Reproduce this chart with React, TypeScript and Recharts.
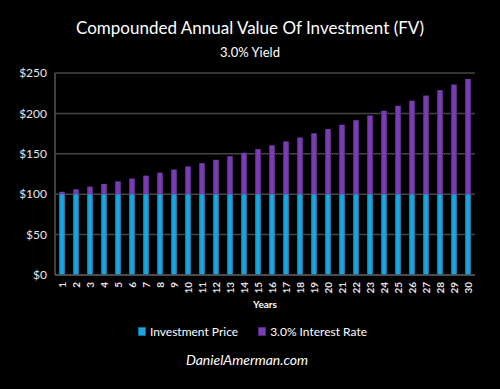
import React from "react";
import { BarChart, Bar, XAxis, YAxis, CartesianGrid } from "recharts";

const years = [1,2,3,4,5,6,7,8,9,10,11,12,13,14,15,16,17,18,19,20,21,22,23,24,25,26,27,28,29,30];
const investmentPrice = [100,100,100,100,100,100,100,100,100,100,100,100,100,100,100,100,100,100,100,100,100,100,100,100,100,100,100,100,100,100];
const interest = [3,6.1,9.3,12.6,15.9,19.4,23,26.7,30.5,34.4,38.4,42.6,46.9,51.3,55.8,60.5,65.3,70.2,75.4,80.6,86,91.6,97.4,103.3,109.4,115.7,122.1,128.8,135.7,142.7];
const yTicks = [0, 50, 100, 150, 200, 250];
const seriesNames = ["Investment Price", "3.0% Interest Rate"];

const data = years.map((y, i) => ({ year: String(y), price: investmentPrice[i], interest: interest[i] }));

const FONT = "Lato, 'Open Sans', sans-serif";

const Swatch = ({ color, edge }: { color: string; edge: string }) => (
  <span style={{ display: "inline-block", width: 6, height: 7, background: color, border: `1px solid ${edge}`, marginRight: 4, verticalAlign: "middle", position: "relative", top: -1 }} />
);

export default function App() {
  return (
    <div style={{ position: "fixed", left: 0, top: 0, width: 500, height: 389, background: "#000", fontFamily: FONT, overflow: "hidden" }}>
      <div style={{ position: "absolute", top: 17, width: 500, textAlign: "center", color: "#fff", fontSize: 17 }}>
        Compounded Annual Value Of Investment (FV)
      </div>
      <div style={{ position: "absolute", top: 44, width: 500, textAlign: "center", color: "#fff", fontSize: 13 }}>
        3.0% Yield
      </div>
      <BarChart width={500} height={389} data={data} margin={{ top: 73, right: 25, bottom: 90, left: 0 }} barSize={6}>
        <defs>
          <linearGradient id="blueG" x1="0" y1="0" x2="1" y2="0">
            <stop offset="0" stopColor="#0d6a99" />
            <stop offset="0.3" stopColor="#1aa6de" />
            <stop offset="0.7" stopColor="#1aa6de" />
            <stop offset="1" stopColor="#0d6a99" />
          </linearGradient>
          <linearGradient id="purpG" x1="0" y1="0" x2="1" y2="0">
            <stop offset="0" stopColor="#4f2378" />
            <stop offset="0.3" stopColor="#7b3eb3" />
            <stop offset="0.7" stopColor="#7b3eb3" />
            <stop offset="1" stopColor="#4f2378" />
          </linearGradient>
        </defs>
        <CartesianGrid vertical={false} stroke="#444" strokeWidth={1.5} />
        <XAxis
          dataKey="year"
          interval={0}
          height={24}
          tickLine={false}
          axisLine={{ stroke: "#555", strokeWidth: 1.5 }}
          angle={-90}
          textAnchor="end"
          dy={-1}
          dx={-3}
          tick={{ fill: "#e6e6e6", fontSize: 10, fontWeight: 700, fontFamily: FONT }}
        />
        <YAxis
          width={55}
          domain={[0, 250]}
          ticks={yTicks}
          tickFormatter={(v) => `$${v}`}
          tickLine={false}
          axisLine={{ stroke: "#555", strokeWidth: 1.5 }}
          tick={{ fill: "#e6e6e6", fontSize: 12, fontFamily: FONT }}
        />
        <Bar dataKey="price" name={seriesNames[0]} stackId="a" fill="url(#blueG)" isAnimationActive={false} />
        <Bar dataKey="interest" name={seriesNames[1]} stackId="a" fill="url(#purpG)" isAnimationActive={false} />
      </BarChart>
      <div style={{ position: "absolute", top: 298, left: 55, width: 420, textAlign: "center", color: "#fff", fontSize: 10, fontWeight: 700 }}>
        Years
      </div>
      <div style={{ position: "absolute", top: 324, left: 0, width: 505, textAlign: "center", color: "#fff", fontSize: 12, whiteSpace: "nowrap" }}>
        <Swatch color="#1aa6de" edge="#0d6a99" />
        <span style={{ marginRight: 20 }}>{seriesNames[0]}</span>
        <Swatch color="#7b3eb3" edge="#4f2378" />
        <span>{seriesNames[1]}</span>
      </div>
      <div style={{ position: "absolute", top: 351, width: 494, textAlign: "center", color: "#fff", fontSize: 14, fontStyle: "italic" }}>
        DanielAmerman.com
      </div>
    </div>
  );
}
